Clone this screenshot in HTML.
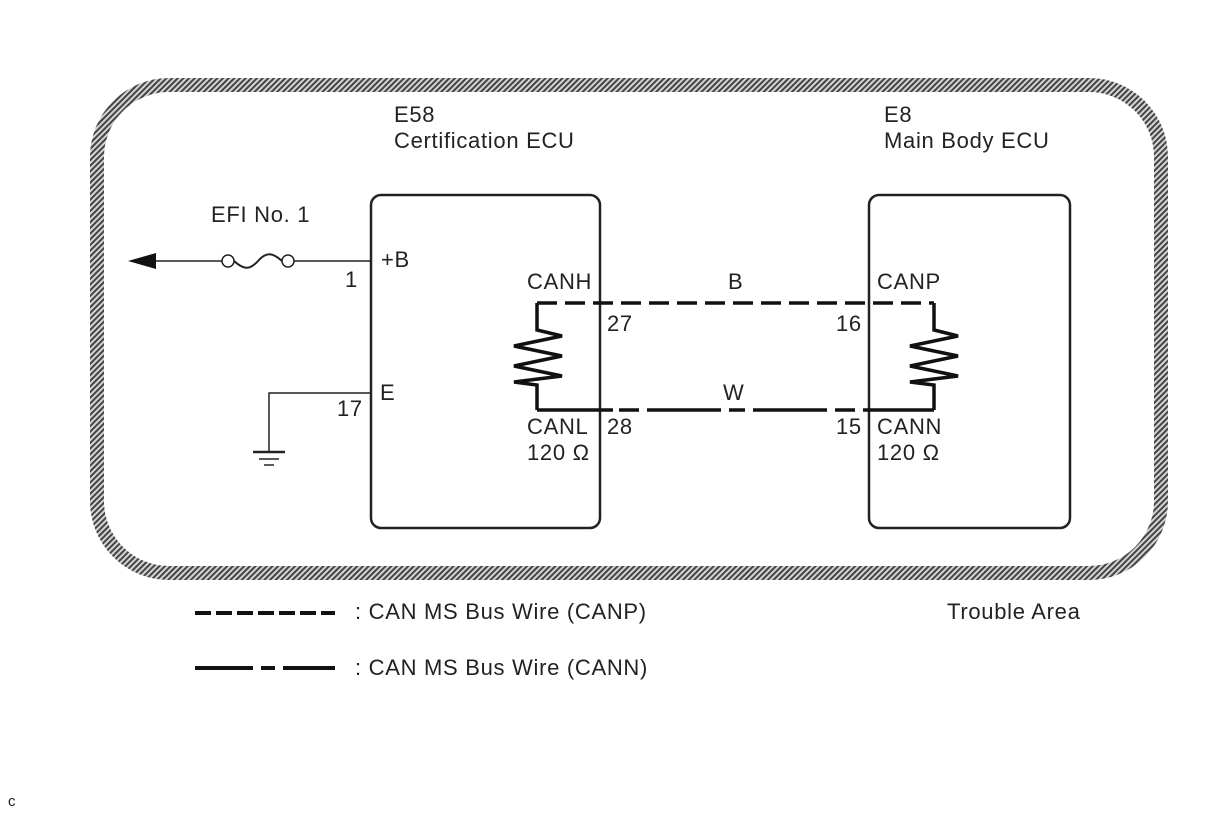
<!DOCTYPE html>
<html><head><meta charset="utf-8"><style>
html,body{margin:0;padding:0;background:#fff;}
svg{display:block;}
text{font-family:"Liberation Sans",Arial,sans-serif;fill:#222;font-size:22px;letter-spacing:0.7px;}
</style></head><body>
<svg width="1210" height="814" viewBox="0 0 1210 814" xmlns="http://www.w3.org/2000/svg">
<defs>
<pattern id="h" width="4" height="4" patternUnits="userSpaceOnUse" patternTransform="rotate(45)">
<rect width="4" height="4" fill="#d4d4d4"/><rect width="2" height="4" fill="#444"/>
</pattern>
</defs>
<rect x="97" y="85" width="1064" height="488" rx="72" ry="72" fill="none" stroke="url(#h)" stroke-width="14"/>
<rect x="371" y="195" width="229" height="333" rx="10" fill="none" stroke="#222" stroke-width="2.5"/>
<rect x="869" y="195" width="201" height="333" rx="10" fill="none" stroke="#222" stroke-width="2.5"/>
<line x1="150" y1="261" x2="222" y2="261" stroke="#222" stroke-width="1.5"/>
<line x1="294" y1="261" x2="371" y2="261" stroke="#222" stroke-width="1.5"/>
<polygon points="128,261 156,253 156,269" fill="#111"/>
<circle cx="228" cy="261" r="6" fill="#fff" stroke="#222" stroke-width="1.5"/>
<circle cx="288" cy="261" r="6" fill="#fff" stroke="#222" stroke-width="1.5"/>
<path d="M234,261 C244,270 250,270 258,261 C266,252 272,252 282,261" fill="none" stroke="#222" stroke-width="2"/>
<polyline points="371,393 269,393 269,452" fill="none" stroke="#222" stroke-width="1.5"/>
<line x1="253" y1="452" x2="285" y2="452" stroke="#222" stroke-width="2.5"/>
<line x1="259" y1="459" x2="279" y2="459" stroke="#222" stroke-width="1.5"/>
<line x1="264" y1="465" x2="274" y2="465" stroke="#222" stroke-width="1.5"/>
<polyline points="537,303 537,330 562,336 514,346 562,356 514,366 562,376 514,382 537,385 537,410" fill="none" stroke="#111" stroke-width="3.5"/>
<polyline points="934,303 934,330 958,336 910,346 958,356 910,366 958,376 910,382 934,385 934,410" fill="none" stroke="#111" stroke-width="3.5"/>
<line x1="537" y1="303" x2="934" y2="303" stroke="#111" stroke-width="3.5" stroke-dasharray="20 8"/>
<line x1="537" y1="410" x2="603" y2="410" stroke="#111" stroke-width="3.5"/>
<line x1="603" y1="410" x2="869" y2="410" stroke="#111" stroke-width="3.5" stroke-dasharray="10 6 20 8 74 8 16 8 74 8 20 8"/>
<line x1="869" y1="410" x2="934" y2="410" stroke="#111" stroke-width="3.5"/>
<text x="394" y="122">E58</text>
<text x="394" y="148">Certification ECU</text>
<text x="884" y="122">E8</text>
<text x="884" y="148">Main Body ECU</text>
<text x="211" y="222">EFI No. 1</text>
<text x="381" y="267">+B</text>
<text x="345" y="287">1</text>
<text x="380" y="400">E</text>
<text x="337" y="416">17</text>
<text x="527" y="289">CANH</text>
<text x="728" y="289">B</text>
<text x="877" y="289">CANP</text>
<text x="607" y="331">27</text>
<text x="836" y="331">16</text>
<text x="723" y="400">W</text>
<text x="527" y="434">CANL</text>
<text x="607" y="434">28</text>
<text x="527" y="460">120 Ω</text>
<text x="836" y="434">15</text>
<text x="877" y="434">CANN</text>
<text x="877" y="460">120 Ω</text>
<line x1="195" y1="613" x2="335" y2="613" stroke="#111" stroke-width="4" stroke-dasharray="16 5"/>
<text x="355" y="619">: CAN MS Bus Wire (CANP)</text>
<line x1="195" y1="668" x2="253" y2="668" stroke="#111" stroke-width="4"/>
<line x1="261" y1="668" x2="275" y2="668" stroke="#111" stroke-width="4"/>
<line x1="283" y1="668" x2="335" y2="668" stroke="#111" stroke-width="4"/>
<text x="355" y="675">: CAN MS Bus Wire (CANN)</text>
<text x="947" y="619">Trouble Area</text>
<text x="8" y="806" style="font-size:15px;letter-spacing:0">c</text>
</svg>
</body></html>
